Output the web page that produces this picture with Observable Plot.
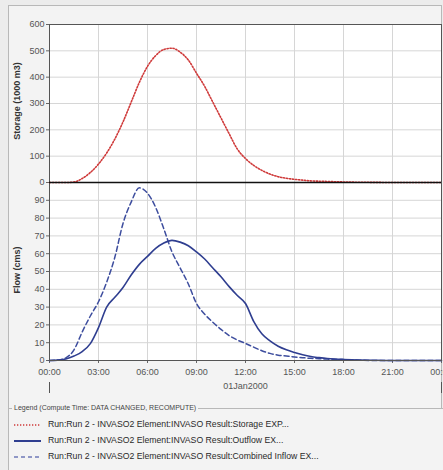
<!DOCTYPE html>
<html><head><meta charset="utf-8">
<script src="https://cdn.jsdelivr.net/npm/d3@7"></script>
<script src="https://cdn.jsdelivr.net/npm/@observablehq/plot@0.6"></script>
<style>
html,body{margin:0;padding:0;width:443px;height:470px;overflow:hidden;background:#ececec;font-family:"Liberation Sans",Arial,sans-serif;}
#frame{position:absolute;left:8px;top:5px;width:432px;height:403px;border:1px solid #b8b8b8;border-bottom:none;background:#f3f3f3;}
#legendbox{position:absolute;left:8px;top:408px;width:440px;height:70px;border-left:1px solid #b8b8b8;border-top:1px solid #b8b8b8;background:#f3f3f3;}
#legtitle{position:absolute;left:3px;top:-5px;font-size:7px;color:#444;background:#f3f3f3;padding:0 2px;white-space:nowrap;}
.entry{position:absolute;left:5px;height:12px;font-size:8.7px;color:#2a2a2a;white-space:nowrap;}
.sw{position:absolute;left:0;top:1px;}
.entry span{position:absolute;left:34px;top:0;}
.ylab{position:absolute;font-size:9px;font-weight:bold;color:#333;white-space:nowrap;transform:translate(-50%,-50%) rotate(-90deg);}
#top,#bottom{position:absolute;left:0;}
#top{top:0;z-index:2;}
#bottom{top:170px;z-index:1;}
</style></head>
<body>
<div id="frame"></div>
<div id="bottom"></div>
<div id="top"></div>
<div class="ylab" id="ylab1" style="left:17px;top:101px;">Storage (1000 m3)</div>
<div class="ylab" id="ylab2" style="left:17px;top:270px;">Flow (cms)</div>
<div id="legendbox">
  <div id="legtitle"></div>
</div>
<script>
// ---- data ----
const hours   = [0,0.5,1,1.5,2,2.5,3,3.5,4,4.5, 5,5.5,6,6.5,7,7.5,8,8.5,9,9.5, 10,10.5,11,11.5,12,12.5,13,13.5,14,14.5, 15,15.5,16,16.5,17,17.5,18, 19,20,21,22,23,24];
const storage = [0,0,0,2,15,38,70,112,165,230, 305,380,441,482,505,510,495,465,415,365, 305,245,185,127,91,65,46,32,22,16, 12,9,6,5,4,3,2, 1,0.5,0,0,0,0];
const outflow = [0,0.2,0.8,2.5,5,9.5,18.5,30,35.5,41, 48,54,58.5,63,66,67.5,66.5,64.5,61,57, 52,47,41.5,36.5,32,22,15,11,8,6, 4.5,3.2,2.2,1.6,1.1,0.8,0.6, 0.3,0.1,0,0,0,0];
const inflow  = [0,0.3,1.5,6,16,25,33,44,58,77, 89,97,94,86,74,61,52,43,32,26, 21.5,17.5,14,11.5,9.6,7.5,5.5,4,3,2.5, 2,1.6,1.2,1,0.8,0.6,0.5, 0.2,0,0,0,0,0];
const xTickHours = [0,3,6,9,12,15,18,21,24];
const storageTicks = [0,100,200,300,400,500,600];
const flowTicks = [0,10,20,30,40,50,60,70,80,90];
const flowGrid = [10,20,30,40,50,60,70,80,90];
const dateLabel = "01Jan2000";
const legendTitle = "Legend (Compute Time: DATA CHANGED, RECOMPUTE)";
const seriesNames = [
  "Run:Run 2 - INVASO2 Element:INVASO Result:Storage EXP...",
  "Run:Run 2 - INVASO2 Element:INVASO Result:Outflow EX...",
  "Run:Run 2 - INVASO2 Element:INVASO Result:Combined Inflow EX..."
];

// ---- build ----
const t0 = Date.UTC(2000,0,1);
const toDate = h => new Date(t0 + h*3600000);
const rows = hours.map((h,i)=>({time: toDate(h), storage: storage[i], outflow: outflow[i], inflow: inflow[i]}));
const xDomain = [toDate(0), toDate(24)];
const xTicks = xTickHours.map(toDate);
const fmt = d3.utcFormat("%H:%M");
const gridColor = "#d6d6d6";
const frameColor = "#555";
const redC = "#cf3a3a", blueC = "#2f3e90", blue2 = "#3d4d9e";
const baseStyle = {background:"transparent", fontFamily:"Liberation Sans, Arial, sans-serif", fontSize:"9px", color:"#555", overflow:"visible"};

const topPlot = Plot.plot({
  width: 443, height: 183, marginLeft: 49, marginRight: 2, marginTop: 24, marginBottom: 1,
  style: baseStyle,
  x: {type:"utc", domain: xDomain, axis: null},
  y: {domain: [0,600], axis: null},
  marks: [
    Plot.frame({fill:"white", stroke:null}),
    Plot.gridX(xTicks, {stroke: gridColor, strokeOpacity: 1}),
    Plot.gridY(storageTicks, {stroke: gridColor, strokeOpacity: 1}),
    Plot.axisY(storageTicks, {tickSize: 3, tickPadding: 2, label: null, stroke: "#666"}),
    Plot.line(rows, {x:"time", y:"storage", stroke: redC, strokeWidth: 1.6, strokeDasharray: "1.3,1.7", curve: "monotone-x"}),
    Plot.frame({stroke: frameColor}),
    Plot.ruleY([0], {stroke:"#111", strokeWidth: 1.5})
  ]
});
document.getElementById("top").append(topPlot);

const bottomPlot = Plot.plot({
  width: 443, height: 225, marginLeft: 49, marginRight: 2, marginTop: 12, marginBottom: 35,
  style: baseStyle,
  x: {type:"utc", domain: xDomain, axis: null},
  y: {domain: [0,100], axis: null},
  marks: [
    Plot.frame({fill:"white", stroke:null}),
    Plot.gridX(xTicks, {stroke: gridColor, strokeOpacity: 1}),
    Plot.gridY(flowGrid, {stroke: gridColor, strokeOpacity: 1}),
    Plot.axisY(flowTicks, {tickSize: 3, tickPadding: 2, label: null, stroke:"#666"}),
    Plot.axisX(xTicks, {tickSize: 3, tickPadding: 5, tickFormat: fmt, label: null, stroke:"#666"}),
    Plot.axisX([xDomain[0], xDomain[1]], {tickSize: 11, tickFormat: () => "", label: null, dy: 22, stroke:"#555"}),
    Plot.axisX([toDate(12)], {tickSize: 0, tickPadding: 0, tickFormat: () => dateLabel, label: null, dy: 22}),
    Plot.line(rows, {x:"time", y:"inflow", stroke: blue2, strokeWidth: 1.5, strokeDasharray: "5,3", curve: "monotone-x"}),
    Plot.line(rows, {x:"time", y:"outflow", stroke: blueC, strokeWidth: 1.6, curve: "monotone-x"}),
    Plot.frame({stroke: frameColor})
  ]
});
document.getElementById("bottom").append(bottomPlot);

// ---- legend ----
document.getElementById("legtitle").textContent = legendTitle;
const swDefs = [
  {stroke: redC, width: 1.4, dash: "1.3,1.7"},
  {stroke: blueC, width: 2, dash: null},
  {stroke: "#6f7ab8", width: 1.4, dash: "4,3"}
];
const lb = document.getElementById("legendbox");
seriesNames.forEach((name,i)=>{
  const e = document.createElement("div");
  e.className = "entry";
  e.style.top = (10 + i*16) + "px";
  const ns = "http://www.w3.org/2000/svg";
  const sv = document.createElementNS(ns, "svg");
  sv.setAttribute("class","sw"); sv.setAttribute("width","27"); sv.setAttribute("height","10");
  const ln = document.createElementNS(ns, "line");
  ln.setAttribute("x1","0"); ln.setAttribute("x2","27"); ln.setAttribute("y1","5"); ln.setAttribute("y2","5");
  ln.setAttribute("stroke", swDefs[i].stroke); ln.setAttribute("stroke-width", swDefs[i].width);
  if (swDefs[i].dash) ln.setAttribute("stroke-dasharray", swDefs[i].dash);
  sv.append(ln);
  const s = document.createElement("span");
  s.textContent = name;
  e.append(sv, s);
  lb.append(e);
});
</script>
</body></html>
